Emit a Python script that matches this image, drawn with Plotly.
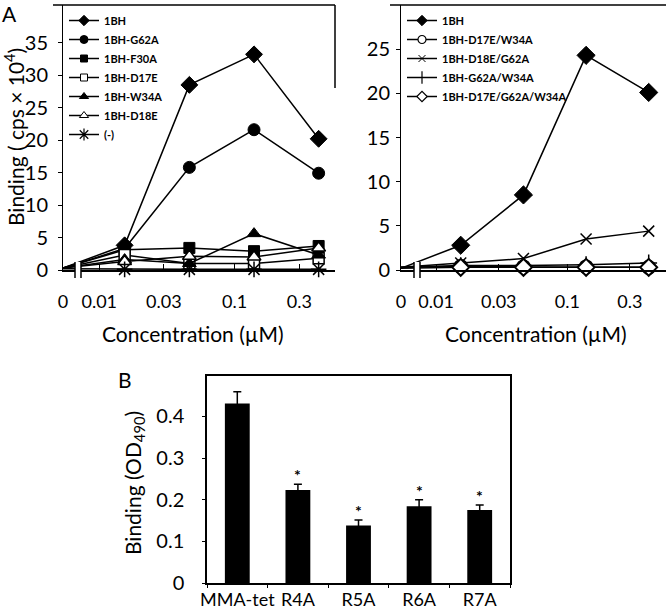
import plotly.graph_objects as go

# ---- data -----------------------------------------------------------------
conc = [0, 0.0154, 0.0463, 0.139, 0.417]          # µM, 3-fold dilution
ZERO_AT = 0.0054                                    # where "0" sits on the broken log axis
conc_ticks = [0, 0.01, 0.03, 0.1, 0.3]
conc_ticktext = ["0", "0.01", "0.03", "0.1", "0.3"]

left_names = ["1BH", "1BH-G62A", "1BH-F30A", "1BH-D17E", "1BH-W34A", "1BH-D18E", "(-)"]
left_1bh = [0.3, 3.8, 28.5, 33.2, 20.2]
left_g62a = [0.3, 3.3, 15.8, 21.6, 14.9]
left_f30a = [0.3, 3.1, 3.4, 2.9, 3.7]
left_d17e = [0.3, 2.3, 1.0, 1.0, 1.8]
left_w34a = [0.3, 1.6, 1.0, 5.6, 2.3]
left_d18e = [0.3, 1.3, 2.1, 2.0, 3.4]
left_neg = [0.2, 0.1, 0.1, 0.1, 0.1]

right_names = ["1BH", "1BH-D17E/W34A", "1BH-D18E/G62A", "1BH-G62A/W34A", "1BH-D17E/G62A/W34A"]
right_1bh = [0.2, 2.8, 8.5, 24.3, 20.1]
right_d17e_w34a = [0.3, 0.4, 0.35, 0.35, 0.3]
right_d18e_g62a = [0.3, 0.8, 1.3, 3.5, 4.4]
right_g62a_w34a = [0.3, 0.5, 0.5, 0.6, 0.8]
right_triple = [0.2, 0.3, 0.3, 0.3, 0.3]

bar_cats = ["MMA-tet", "R4A", "R5A", "R6A", "R7A"]
bar_vals = [0.431, 0.223, 0.138, 0.184, 0.175]
bar_err = [0.028, 0.014, 0.013, 0.016, 0.012]
bar_sig = ["", "*", "*", "*", "*"]

# ---- helpers ----------------------------------------------------------------
W, H = 666, 609
FONT = "Lato, 'Open Sans', sans-serif"
BLACK = "#000000"


def px(x):
    return x / W


def py(y):
    return 1 - y / H


def xpos(values):
    return [ZERO_AT if v == 0 else v for v in values]


def style(symbol, size, fill=BLACK, lw=1):
    return dict(symbol=symbol, size=size, color=fill, line=dict(color=BLACK, width=lw))


# (values, plot marker, legend marker)
left_series = [
    (left_1bh, style("diamond", 13), style("diamond", 8)),
    (left_g62a, style("circle", 12), style("circle", 8)),
    (left_f30a, style("square", 11), style("square", 7)),
    (left_d17e, style("square", 11, "white", 1.5), style("square", 7, "white", 1)),
    (left_w34a, style("triangle-up", 12), style("triangle-up", 8)),
    (left_d18e, style("triangle-up", 12, "white", 1.5), style("triangle-up", 8, "white", 1)),
    (left_neg, style("asterisk-open", 13, BLACK, 1.5), style("asterisk-open", 10, BLACK, 1.2)),
]
right_series = [
    (right_1bh, style("diamond", 14), style("diamond", 8)),
    (right_d17e_w34a, style("circle", 13, "white", 2), style("circle", 8, "white", 1.2)),
    (right_d18e_g62a, style("x-thin-open", 11, BLACK, 1.5), style("x-thin-open", 7, BLACK, 1)),
    (right_g62a_w34a, style("cross-thin-open", 12, BLACK, 1.5),
     style("cross-thin-open", 9, BLACK, 1.2)),
    (right_triple, style("diamond", 13, "white", 2), style("diamond", 8, "white", 1.2)),
]

fig = go.Figure()
for axes, legend, names, series in (
        (("x", "y"), "legend", left_names, left_series),
        (("x2", "y2"), "legend2", right_names, right_series)):
    for name, (vals, mk, lmk) in zip(names, series):
        fig.add_trace(go.Scatter(
            x=xpos(conc), y=vals, name=name, mode="lines+markers", xaxis=axes[0],
            yaxis=axes[1], line=dict(color=BLACK, width=1.5), marker=mk, cliponaxis=False,
            showlegend=False))
        # legend proxy with the small symbols used in the original key
        fig.add_trace(go.Scatter(
            x=[None], y=[None], name=name, mode="lines+markers", xaxis=axes[0],
            yaxis=axes[1], line=dict(color=BLACK, width=1.5), marker=lmk, legend=legend))

fig.add_trace(go.Bar(
    x=bar_cats, y=bar_vals, xaxis="x3", yaxis="y3", showlegend=False,
    marker=dict(color=BLACK, line=dict(width=0)),
    error_y=dict(type="data", array=bar_err, color=BLACK, thickness=1.5, width=4)))

tickf = dict(family=FONT, size=18, color=BLACK)
ytickf = dict(family=FONT, size=20, color=BLACK)
conc_axis = dict(type="log", tickvals=xpos(conc_ticks), ticktext=conc_ticktext,
                 showline=True, linecolor=BLACK, linewidth=2, ticks="inside", ticklen=6,
                 tickcolor=BLACK, showgrid=False, zeroline=False, tickfont=tickf,
                 ticklabelstandoff=14, automargin=False, tickangle=0)
val_axis = dict(showline=True, linecolor=BLACK, linewidth=1, ticks="outside", ticklen=4,
                tickcolor=BLACK, showgrid=False, zeroline=False, tickfont=ytickf,
                automargin=False)

legend_style = dict(xanchor="left", yanchor="top", bgcolor="rgba(0,0,0,0)",
                    font=dict(family=FONT, size=11, color=BLACK, weight="bold"),
                    itemwidth=30, tracegroupgap=0)

layout_shapes = [
    # panel A frames (top rules and partial right edge)
    dict(type="line", xref="paper", yref="paper", x0=px(53), x1=px(335), y0=py(5), y1=py(5),
         line=dict(color=BLACK, width=1.5)),
    dict(type="line", xref="paper", yref="paper", x0=px(335), x1=px(335), y0=py(5), y1=py(88),
         line=dict(color=BLACK, width=1.5)),
    dict(type="line", xref="paper", yref="paper", x0=px(390), x1=px(666), y0=py(5), y1=py(5),
         line=dict(color=BLACK, width=1.5)),
]
# axis breaks
for bx in (75, 414):
    layout_shapes += [
        dict(type="rect", xref="paper", yref="paper", x0=px(bx), x1=px(bx + 6), y0=py(278),
             y1=py(262), fillcolor="white", line=dict(width=0), layer="above"),
        dict(type="line", xref="paper", yref="paper", x0=px(bx), x1=px(bx), y0=py(278),
             y1=py(262), line=dict(color=BLACK, width=1.5), layer="above"),
        dict(type="line", xref="paper", yref="paper", x0=px(bx + 6), x1=px(bx + 6), y0=py(278),
             y1=py(262), line=dict(color=BLACK, width=1.5), layer="above"),
    ]

titlef = dict(family=FONT, size=21, color=BLACK)
annotations = [
    dict(text="A", x=px(9), y=py(14), font=titlef),
    dict(text="B", x=px(125), y=py(379), font=titlef),
    dict(text="Binding ( cps × 10<sup>4</sup>)", x=px(14), y=py(137), textangle=-90,
         font=titlef),
    dict(text="Concentration (µM)", x=px(193), y=py(333), font=titlef),
    dict(text="Concentration (µM)", x=px(536), y=py(333), font=titlef),
    dict(text="Binding (OD<sub>490</sub>)", x=px(134), y=py(483), textangle=-90, font=titlef),
]
for a in annotations:
    a.update(xref="paper", yref="paper", showarrow=False, xanchor="center", yanchor="middle")

# significance stars just above each error bar
for cat, v, e, s in zip(bar_cats, bar_vals, bar_err, bar_sig):
    if s:
        annotations.append(dict(text=s, x=cat, y=v + e, xref="x3", yref="y3", showarrow=False,
                                yanchor="bottom", yshift=-2,
                                font=dict(family=FONT, size=16, color=BLACK, weight="bold")))

fig.update_layout(
    width=W, height=H, margin=dict(l=0, r=0, t=0, b=0, autoexpand=False),
    paper_bgcolor="white", plot_bgcolor="white", font=dict(family=FONT, color=BLACK),
    xaxis=dict(conc_axis, domain=[px(63), px(335)], range=[-2.2676, -0.259], anchor="y"),
    yaxis=dict(val_axis, domain=[py(270), py(5)], range=[0, 40.8], anchor="x",
               tickvals=[0, 5, 10, 15, 20, 25, 30, 35], ticklabelstandoff=6),
    xaxis2=dict(conc_axis, domain=[px(401), 1], range=[-2.2676, -0.248], anchor="y2"),
    yaxis2=dict(val_axis, domain=[py(270), py(5)], range=[0, 30], anchor="x2",
                tickvals=[0, 5, 10, 15, 20, 25], ticklabelstandoff=2),
    xaxis3=dict(domain=[px(207), px(510)], anchor="y3", showline=True, linecolor=BLACK,
                linewidth=1.5, mirror=True, ticks="outside", ticklen=3, tickcolor=BLACK,
                tickson="boundaries", tickfont=tickf, showgrid=False, tickangle=0,
                automargin=False),
    yaxis3=dict(domain=[py(583), py(376)], anchor="x3", range=[0, 0.497], showline=True,
                linecolor=BLACK, linewidth=1.5, mirror=True, ticks="outside", ticklen=3,
                tickcolor=BLACK, tickvals=[0, 0.1, 0.2, 0.3, 0.4], showgrid=False,
                zeroline=False, tickfont=ytickf, ticklabelstandoff=14, automargin=False),
    bargap=0.59,
    legend=dict(legend_style, x=px(64), y=py(6)),
    legend2=dict(legend_style, x=px(402), y=py(6)),
    shapes=layout_shapes,
    annotations=annotations,
)

# the page body has a default 8px margin; drop it so the figure fills the window
fig.write_html("out.html", config={"displayModeBar": False},
               post_script="document.body.style.margin='0';")
